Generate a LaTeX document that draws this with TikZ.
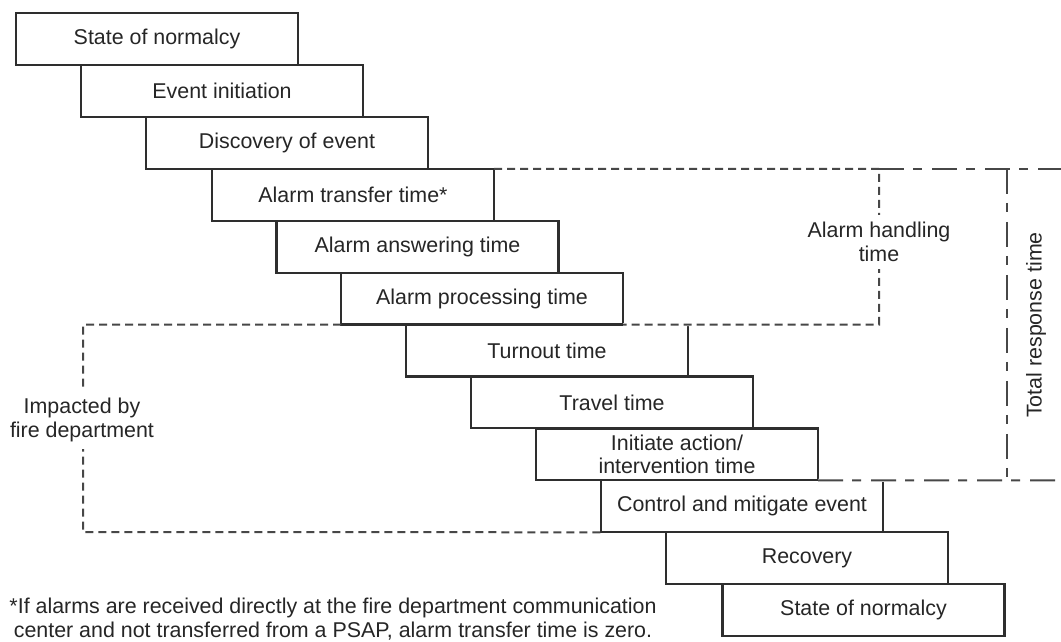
\documentclass[tikz,border=0pt]{standalone}
\usepackage{fontspec}
\setmainfont{Liberation Sans}
\begin{document}
\begin{tikzpicture}[x=1pt,y=-1pt,
  every node/.style={font=\fontsize{21.4}{23.5}\selectfont, text=black!85},
  stagebox/.style={draw=black!82, line width=2.2pt, minimum width=282pt, minimum height=51.9pt, inner sep=0pt, outer sep=0pt, align=center},
  shortdash/.style={draw=black!72, line width=2pt, dash pattern=on 8pt off 5pt},
  dashdotline/.style={draw=black!72, line width=2pt, dash pattern=on 25pt off 9pt on 9pt off 10pt},
  eraser/.style={draw=white, line width=3pt},
  sidelabel/.style={fill=white, align=center, inner xsep=2pt, inner ysep=7pt}]
\useasboundingbox (0,0) rectangle (1061,641);
\fill[white] (0,0) rectangle (1061,641);

% stages
\node[stagebox] (b1)  at (157,39)     {State of normalcy};
\node[stagebox] (b2)  at (222,90.9)   {Event initiation};
\node[stagebox] (b3)  at (287,142.8)  {Discovery of event};
\node[stagebox] (b4)  at (353,194.8)  {Alarm transfer time*};
\node[stagebox] (b5)  at (417.5,246.7){Alarm answering time};
\node[stagebox] (b6)  at (482,298.6)  {Alarm processing time};
\node[stagebox] (b7)  at (547,350.5)  {Turnout time};
\node[stagebox] (b8)  at (612,402.4)  {Travel time};
\node[stagebox] (b9)  at (677,454.4)  {Initiate action/\\intervention time};
\node[stagebox] (b10) at (742,506.3)  {Control and mitigate event};
\node[stagebox] (b11) at (807,558.2)  {Recovery};
\node[stagebox] (b12) at (863.5,610.1){State of normalcy};

% alarm handling time
\coordinate (ahTop) at (879,168.8);
\coordinate (ahBot) at (879,324.5);
\draw[eraser] (b6.south east) -- (ahBot);
\draw[shortdash] (b4.north east) -- (ahTop) -- (ahBot) -- (b6.south east);
\node[sidelabel] (ahl) at (879,242) {Alarm handling\\time};

% total response time
\coordinate (trTopR) at (1061,168.8);
\coordinate (trBotR) at (1061,480.4);
\coordinate (trV1) at (1007,168.8);
\coordinate (trV2) at (1007,480.4);
\draw[dashdotline] (ahTop) -- (trTopR);
\draw[dashdotline] (trV1) -- (trV2);
\draw[eraser] (b9.south east) -- (trBotR);
\draw[dashdotline] (b9.south east) -- (trBotR);
\node[rotate=90] (trl) at (1036,325) {Total response time};

% impacted by fire department
\coordinate (fdTop) at (83,324.5);
\coordinate (fdBot) at (83,532.2);
\draw[shortdash] (b6.south west) -- (fdTop) -- (fdBot) -- (b10.south west);
\node[sidelabel] (fdl) at (82,420) {Impacted by\\fire department};

% footnote
\node[align=center] (note) at (333,619) {*If alarms are received directly at the fire department communication\\center and not transferred from a PSAP, alarm transfer time is zero.};
\end{tikzpicture}
\end{document}
